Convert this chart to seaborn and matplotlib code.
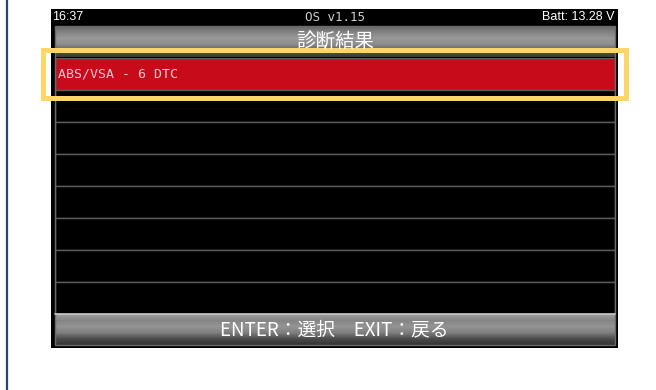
import numpy as np
import pandas as pd
import matplotlib
matplotlib.use("Agg")
import matplotlib.pyplot as plt
from matplotlib.patches import Rectangle
import seaborn as sns

# ---- data ----
status_left = "16:37"
status_center = "OS v1.15"
status_right = "Batt: 13.28 V"
title = "診断結果"
row_ids = ["r1", "r2", "r3", "r4", "r5", "r6", "r7", "r8"]
row_labels = ["ABS/VSA - 6 DTC", "", "", "", "", "", "", ""]
row_values = [1, 1, 1, 1, 1, 1, 1, 1]
row_colors = ["#c70b1b", "#000000", "#000000", "#000000", "#000000", "#000000", "#000000", "#000000"]
footer = "ENTER：選択　EXIT：戻る"

sns.set_theme(style="white")
plt.rcParams['font.family'] = ['Noto Sans CJK JP', 'DejaVu Sans']

W, H = 656, 390
fig = plt.figure(figsize=(W / 100, H / 100), dpi=100)
fig.patch.set_facecolor("white")

def px_axes(z):
    a = fig.add_axes([0, 0, 1, 1])
    a.set_xlim(0, W)
    a.set_ylim(H, 0)
    a.axis("off")
    a.patch.set_alpha(0)
    a.set_zorder(z)
    return a

bg = px_axes(1)
fg = px_axes(3)

# left navy rule
bg.plot([7, 7], [0, H], color="#2c4674", lw=1.6, solid_capstyle="butt")

# screen body
bg.add_patch(Rectangle((51, 9), 567, 339, facecolor="black", edgecolor="none"))

# gradient bars
def grad_bar(y0, y1, stops):
    g = np.interp(np.linspace(0, 1, 64), np.linspace(0, 1, len(stops)), stops)
    img = np.repeat(g[:, None], 2, axis=1)
    bg.imshow(img, cmap="gray", vmin=0, vmax=1, aspect="auto",
              extent=(55, 615, y1, y0), interpolation="bilinear", zorder=1)

grad_bar(26, 57, [0.40, 0.52, 0.60, 0.55, 0.35, 0.22])
grad_bar(314, 345, [0.62, 0.52, 0.58, 0.5, 0.3, 0.2])
bg.set_xlim(0, W)
bg.set_ylim(H, 0)
fg.plot([55, 615], [314, 314], color="#c8c8c8", lw=1.2)
fg.add_patch(Rectangle((55, 26), 560, 319, facecolor="none", edgecolor="#6a6a6a", lw=1))

# status texts
fg.text(52, 17.5, status_left, color="white", fontsize=9, family=["Liberation Sans"],
        ha="left", va="center")
fg.text(335, 17.5, status_center, color="#cfcfcf", fontsize=9, family=["DejaVu Sans Mono"],
        ha="center", va="center")
fg.text(615, 17.5, status_right, color="white", fontsize=9, family=["Liberation Sans"],
        ha="right", va="center")

fg.text(335, 41, title, color="white", fontsize=14, ha="center", va="center")
fg.text(334, 329.5, footer, color="white", fontsize=13.5, ha="center", va="center")

# list rows via seaborn
lax = fig.add_axes([55 / W, 1 - 314 / H, 560 / W, 256 / H])
df = pd.DataFrame({"row": row_ids, "value": row_values})
sns.barplot(data=df, x="value", y="row", hue="row", palette=row_colors, legend=False,
            orient="h", width=1.0, edgecolor="#5c5c5c", linewidth=1.0, ax=lax, saturation=1)
lax.set_xlim(0, 1)
lax.set_ylim(len(row_ids) - 0.5, -0.5)
lax.axis("off")
lax.set_zorder(2)
lax.patch.set_alpha(0)
for i, lab in enumerate(row_labels):
    if lab:
        lax.annotate(lab, xy=(0, i), xytext=(2, 0), textcoords="offset points",
                     color="#f2c6cc", fontsize=9.5, family=["DejaVu Sans Mono"],
                     ha="left", va="center")

# yellow highlight frame
fg.add_patch(Rectangle((43, 49.5), 583, 48, facecolor="none", edgecolor="#fdd66a", lw=3.6))

fig.savefig("out.png", dpi=100, facecolor="white")
